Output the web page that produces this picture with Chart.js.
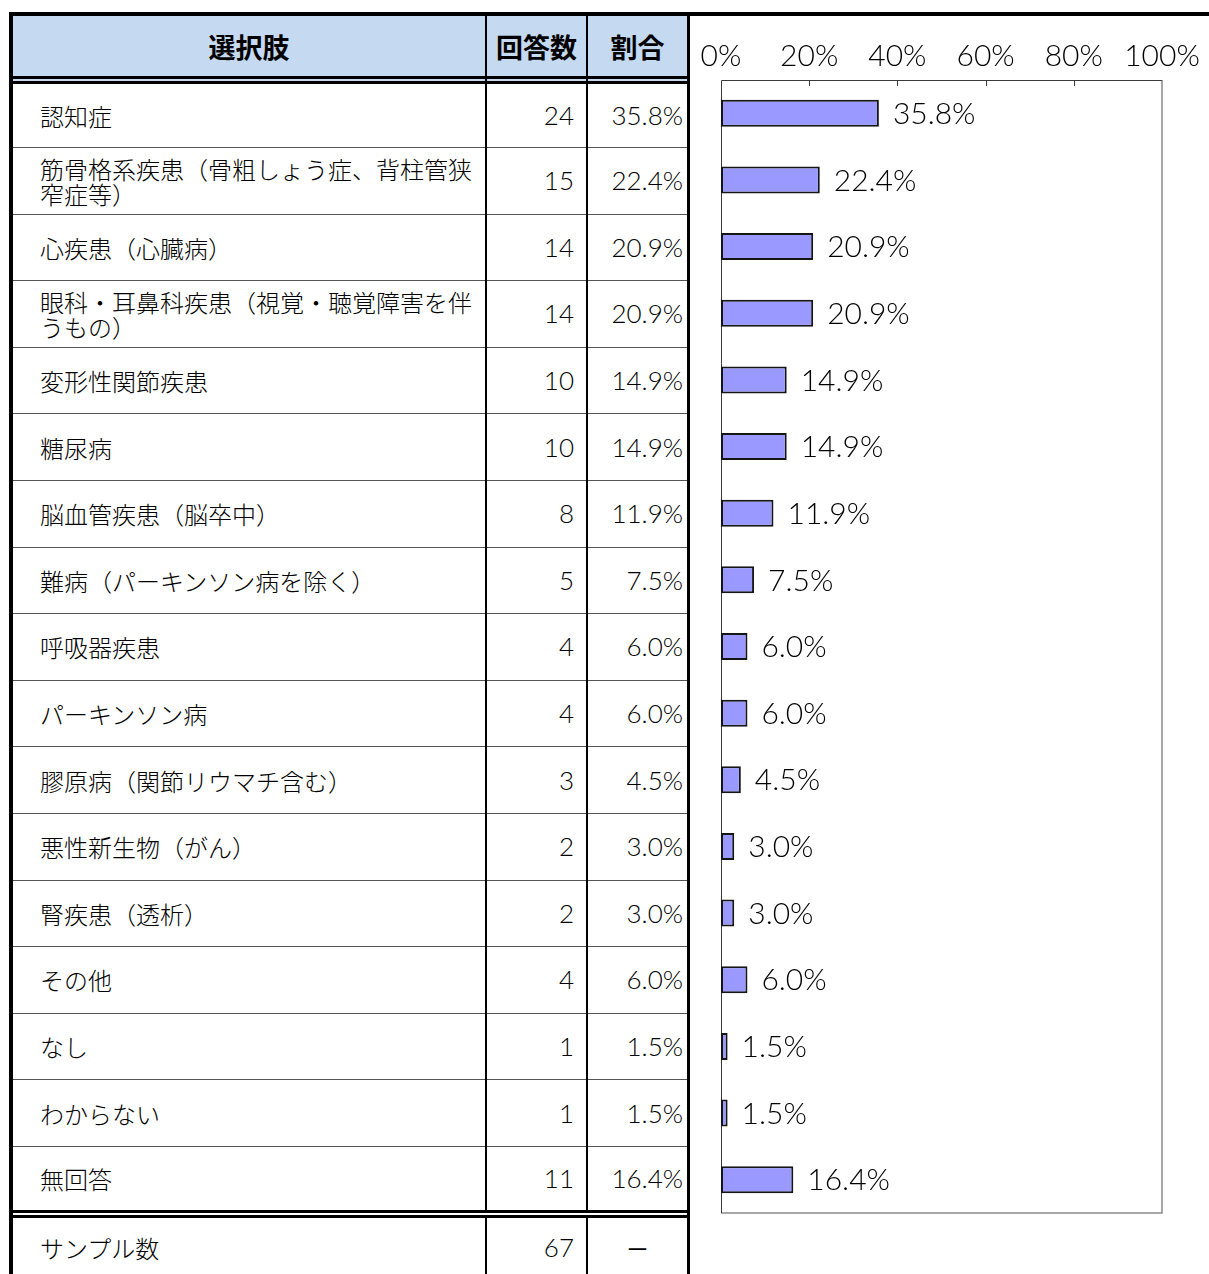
<!DOCTYPE html>
<html lang="ja">
<head>
<meta charset="utf-8">
<title>疾患別回答数</title>
<script src="https://cdn.jsdelivr.net/npm/chart.js@4.4.1/dist/chart.umd.min.js"></script>
<style>
  html, body { margin: 0; padding: 0; background: #fff; }
  body {
    width: 1209px; height: 1274px; position: relative; overflow: hidden;
    font-family: 'Lato', 'Noto Sans CJK JP', sans-serif; color: #000;
  }
  .ln { position: absolute; background: #000; }
  .cell {
    position: absolute; box-sizing: border-box; display: flex; align-items: center;
    font-size: 24px; line-height: 25px;
  }
  .cell.name { padding-left: 27px; padding-right: 5px; font-family: 'Noto Sans CJK JP', sans-serif; font-weight: 300; }
  .cell.num { justify-content: flex-end; font-size: 26px; font-weight: 300; }
  .cell.head { justify-content: center; font-weight: bold; font-size: 27px; font-family: 'Noto Sans CJK JP', sans-serif; }
  #chartBox { position: absolute; left: 690px; top: 20px; width: 519px; height: 1254px; }
</style>
</head>
<body>
<div id="table"></div>
<div id="chartBox"><canvas id="bar-chart" width="519" height="1254"></canvas></div>
<script>
// 選択肢ごとの回答数と割合
const categories = [
  '認知症',
  '筋骨格系疾患（骨粗しょう症、背柱管狭窄症等）',
  '心疾患（心臓病）',
  '眼科・耳鼻科疾患（視覚・聴覚障害を伴うもの）',
  '変形性関節疾患',
  '糖尿病',
  '脳血管疾患（脳卒中）',
  '難病（パーキンソン病を除く）',
  '呼吸器疾患',
  'パーキンソン病',
  '膠原病（関節リウマチ含む）',
  '悪性新生物（がん）',
  '腎疾患（透析）',
  'その他',
  'なし',
  'わからない',
  '無回答'
];
const counts = [24, 15, 14, 14, 10, 10, 8, 5, 4, 4, 3, 2, 2, 4, 1, 1, 11];
const percents = [35.8, 22.4, 20.9, 20.9, 14.9, 14.9, 11.9, 7.5, 6.0, 6.0, 4.5, 3.0, 3.0, 6.0, 1.5, 1.5, 16.4];
const headers = ['選択肢', '回答数', '割合'];
const sampleLabel = 'サンプル数';
const sampleCount = 67;
const axisTicks = [0, 20, 40, 60, 80, 100];

// ---- table ----
const table = document.getElementById('table');
function box(cls, x, y, w, h, text, extra) {
  const d = document.createElement('div');
  d.className = cls;
  d.style.left = x + 'px';
  d.style.top = y + 'px';
  d.style.width = w + 'px';
  d.style.height = h + 'px';
  if (extra) Object.assign(d.style, extra);
  if (text !== undefined) {
    const s = document.createElement('span');
    s.textContent = text;
    d.appendChild(s);
  }
  table.appendChild(d);
  return d;
}

const cols = [{ x: 13, w: 472 }, { x: 487, w: 99 }, { x: 588, w: 99 }];
const firstSep = 147, pitch = 66.6, bodyTop = 84, bodyBottom = 1210;

// header
box('ln', 13, 16, 674, 65, undefined, { background: '#C5D9F1' });
headers.forEach((h, i) => box('cell head', cols[i].x, 16, cols[i].w, 60, h));

// body rows
categories.forEach((c, i) => {
  const top = i === 0 ? bodyTop : firstSep + pitch * (i - 1) + 1;
  const bottom = i < categories.length - 1 ? firstSep + pitch * i : bodyBottom;
  const h = bottom - top;
  box('cell name', cols[0].x, top, cols[0].w, h, c);
  box('cell num', cols[1].x, top, cols[1].w, h, String(counts[i]), { paddingRight: '12px' });
  box('cell num', cols[2].x, top, cols[2].w, h, percents[i].toFixed(1) + '%', { paddingRight: '4px' });
  if (i < categories.length - 1) {
    box('ln', 13, bottom, 674, 1, undefined, { background: '#555' });
  }
});

// sample row
box('cell name', cols[0].x, 1218, cols[0].w, 58, sampleLabel);
box('cell num', cols[1].x, 1218, cols[1].w, 58, String(sampleCount), { paddingRight: '12px' });
box('cell head', cols[2].x, 1218, cols[2].w, 58, '－', { fontWeight: 'normal', fontSize: '24px' });

// rules
box('ln', 9, 12, 1200, 4);          // top rule across the page
box('ln', 9, 12, 4, 1262);          // left border
box('ln', 485, 16, 2, 1258);        // column dividers
box('ln', 586, 16, 2, 1258);
box('ln', 687, 12, 3, 1262);        // right border
box('ln', 13, 76, 674, 3);          // header double rule
box('ln', 13, 81, 674, 3);
box('ln', 13, 1210, 674, 3);        // double rule above sample row
box('ln', 13, 1213, 674, 2, undefined, { background: '#fff' });
box('ln', 13, 1215, 674, 3);

// ---- chart ----
const chartDecor = {
  id: 'chartDecor',
  beforeDatasetsDraw(chart) {
    const { ctx, chartArea: a } = chart;
    const xs = chart.scales.x;
    ctx.save();
    // right and bottom frame
    ctx.strokeStyle = '#8a8a8a';
    ctx.lineWidth = 1.5;
    ctx.beginPath();
    ctx.moveTo(a.right, a.top);
    ctx.lineTo(a.right, a.bottom);
    ctx.lineTo(a.left, a.bottom);
    ctx.stroke();
    // top and left axis lines
    ctx.strokeStyle = '#3a3a3a';
    ctx.lineWidth = 1;
    ctx.beginPath();
    ctx.moveTo(a.left + 0.5, a.bottom);
    ctx.lineTo(a.left + 0.5, a.top + 0.5);
    ctx.lineTo(a.right, a.top + 0.5);
    ctx.stroke();
    // inner tick marks
    axisTicks.slice(1, -1).forEach(v => {
      const x = Math.round(xs.getPixelForValue(v)) + 0.5;
      ctx.beginPath();
      ctx.moveTo(x, a.top);
      ctx.lineTo(x, a.top + 6);
      ctx.stroke();
    });
    ctx.restore();
  },
  afterDatasetsDraw(chart) {
    const { ctx } = chart;
    const meta = chart.getDatasetMeta(0);
    ctx.save();
    ctx.font = '300 30px Lato';
    ctx.fillStyle = '#000';
    ctx.textAlign = 'left';
    ctx.textBaseline = 'middle';
    meta.data.forEach((bar, i) => {
      ctx.fillText(percents[i].toFixed(1) + '%', bar.x + 14, bar.y + 1);
    });
    ctx.restore();
  }
};

window.onload = function() {
  const ctx = document.getElementById('bar-chart').getContext('2d');
  new Chart(ctx, {
    type: 'bar',
    data: {
      labels: categories,
      datasets: [{
        data: percents,
        backgroundColor: '#9999FF',
        borderColor: '#151515',
        borderWidth: 2,
        borderSkipped: false,
        barPercentage: 0.405,
        categoryPercentage: 1
      }]
    },
    options: {
      indexAxis: 'y',
      responsive: false,
      animation: false,
      layout: { padding: { left: 31, right: 47, top: 20, bottom: 61 } },
      scales: {
        x: {
          position: 'top',
          min: 0,
          max: 100,
          afterBuildTicks: s => { s.ticks = axisTicks.map(v => ({ value: v })); },
          afterFit: s => { s.height = 40; },
          ticks: {
            padding: 6,
            maxRotation: 0,
            color: '#000',
            font: { family: 'Lato', size: 30, weight: 300 },
            callback: v => v + '%'
          },
          grid: { display: false, drawTicks: false },
          border: { display: false }
        },
        y: { display: false }
      },
      plugins: {
        legend: { display: false },
        tooltip: { enabled: false }
      }
    },
    plugins: [chartDecor]
  });
};
</script>
</body>
</html>
